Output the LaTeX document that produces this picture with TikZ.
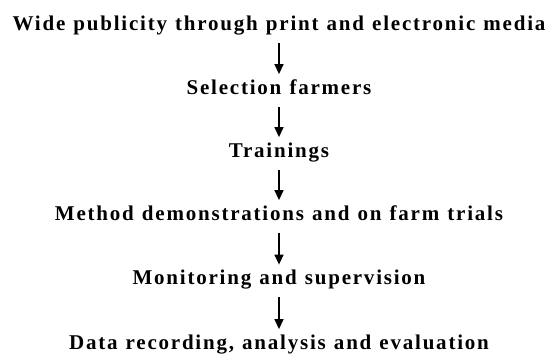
\documentclass[tikz,border=0pt]{standalone}
\usepackage{fontspec}
\setmainfont{Liberation Serif}[LetterSpace=8.5, WordSpace=1.15]
\usetikzlibrary{arrows.meta}

\begin{document}
\begin{tikzpicture}[x=1pt, y=1pt,
    stage/.style={inner sep=0pt, anchor=south, text height=14pt, text depth=0pt, font=\fontsize{21}{24}\selectfont\bfseries},
    arr/.style={-{Triangle[length=10pt, width=9pt]}, line width=1.4pt, shorten <=12pt, shorten >=6pt}
]
\useasboundingbox (0,0) rectangle (550,-356);
\node[stage] (publicity) at (279,-31) {Wide publicity through print and electronic media};
\node[stage] (selection) at (279,-94.5) {Selection farmers};
\node[stage] (trainings) at (279,-157.5) {Trainings};
\node[stage] (demos) at (279,-220.5) {Method demonstrations and on farm trials};
\node[stage] (monitoring) at (279,-285) {Monitoring and supervision};
\node[stage] (data) at (279,-349.5) {Data recording, analysis and evaluation};

\draw[arr] (publicity) -- (selection);
\draw[arr] (selection) -- (trainings);
\draw[arr] (trainings) -- (demos);
\draw[arr] (demos) -- (monitoring);
\draw[arr] (monitoring) -- (data);
\end{tikzpicture}
\end{document}
